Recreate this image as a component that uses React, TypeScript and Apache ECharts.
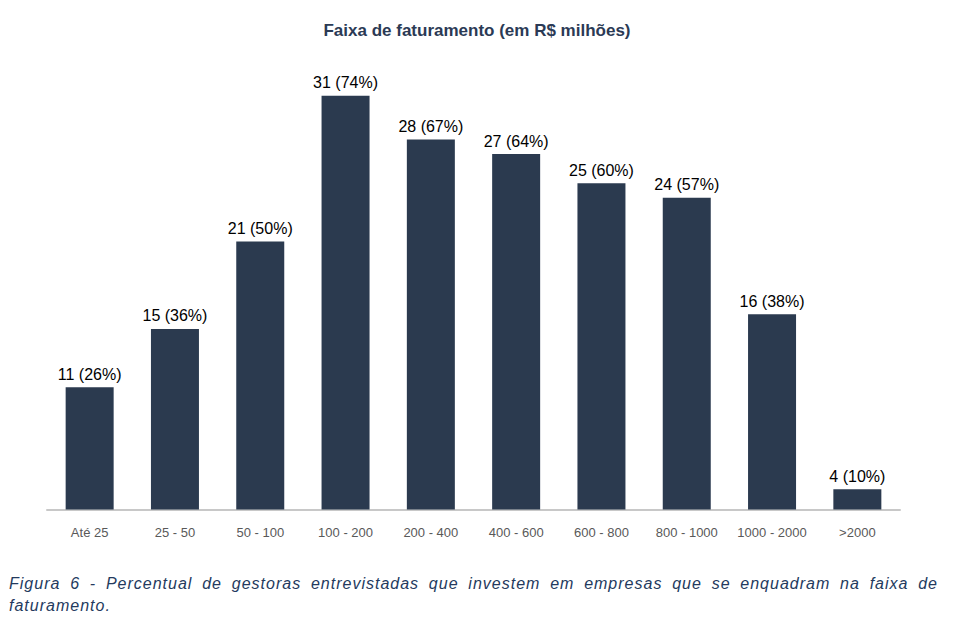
import React, { useEffect, useRef } from "react";
import * as echarts from "echarts";

// Revenue bands (R$ millions)
const categories = [
  "Até 25",
  "25 - 50",
  "50 - 100",
  "100 - 200",
  "200 - 400",
  "400 - 600",
  "600 - 800",
  "800 - 1000",
  "1000 - 2000",
  ">2000",
];
// Number of firms per band and the share it represents
const counts = [11, 15, 21, 31, 28, 27, 25, 24, 16, 4];
const percents = [26, 36, 50, 74, 67, 64, 60, 57, 38, 10];

const titleText = "Faixa de faturamento (em R$ milhões)";
const captionLine1 =
  "Figura 6 - Percentual de gestoras entrevistadas que investem em empresas que se enquadram na faixa de";
const captionLine2 = "faturamento.";

const BAR_COLOR = "#2B3A4F";
const NAVY = "#2B3A55";
const CAPTION_COLOR = "#243A5E";
const CAPTION_FONT_SIZE = 16;
const CAPTION_LETTER_SPACING = 1.0;
const CAPTION_FAMILY = "'Liberation Sans', Arial, sans-serif";

// Lay out a justified caption line word by word.
function justifiedWords(line: string, left: number, right: number, y: number) {
  const canvas = document.createElement("canvas");
  const ctx = canvas.getContext("2d")!;
  ctx.font = `italic ${CAPTION_FONT_SIZE}px ${CAPTION_FAMILY}`;
  const words = line.split(" ");
  const widths = words.map(
    (w) => ctx.measureText(w).width + CAPTION_LETTER_SPACING * w.length
  );
  const total = widths.reduce((a, b) => a + b, 0);
  const gap = words.length > 1 ? (right - left - total) / (words.length - 1) : 0;
  let x = left;
  return words.map((w, i) => {
    const el = {
      type: "text",
      x,
      y,
      style: {
        text: w,
        fill: CAPTION_COLOR,
        font: `italic ${CAPTION_FONT_SIZE}px ${CAPTION_FAMILY}`,
        textAlign: "left",
        textVerticalAlign: "middle",
      },
    };
    x += widths[i] + gap;
    return el;
  });
}

export default function App() {
  const ref = useRef<HTMLDivElement>(null);

  useEffect(() => {
    if (!ref.current) return;
    const chart = echarts.init(ref.current, undefined, { renderer: "svg" });

    const captionEls = [
      ...justifiedWords(captionLine1, 9, 938, 583.5),
      {
        type: "text",
        x: 9,
        y: 605,
        style: {
          text: captionLine2,
          fill: CAPTION_COLOR,
          font: `italic ${CAPTION_FONT_SIZE}px ${CAPTION_FAMILY}`,
          textAlign: "left",
          textVerticalAlign: "middle",
        },
      },
    ];

    chart.setOption({
      animation: false,
      backgroundColor: "#ffffff",
      grid: { left: 47, right: 55, top: 60, bottom: 118.5 },
      xAxis: {
        type: "category",
        data: categories,
        axisLine: { show: true, lineStyle: { color: "#C8C8C8", width: 2 } },
        axisTick: { show: false },
        axisLabel: {
          color: "#595959",
          fontSize: 13,
          fontFamily: "'Liberation Sans', Arial, sans-serif",
          margin: 16,
          interval: 0,
        },
      },
      yAxis: {
        type: "value",
        min: 2.61,
        max: 33.45,
        show: false,
        splitLine: { show: false },
      },
      series: [
        {
          type: "bar",
          data: counts,
          barWidth: 48,
          itemStyle: { color: BAR_COLOR },
          label: {
            show: true,
            position: "top",
            distance: 5,
            color: "#000000",
            fontSize: 16,
            fontFamily: "'Liberation Sans', Arial, sans-serif",
            formatter: (p: any) => `${counts[p.dataIndex]} (${percents[p.dataIndex]}%)`,
          },
        },
      ],
      graphic: [
        {
          type: "text",
          x: 477,
          y: 30,
          style: {
            text: titleText,
            fill: NAVY,
            font: "bold 17px 'Liberation Sans', Arial, sans-serif",
            textAlign: "center",
            textVerticalAlign: "middle",
          },
        },
        ...captionEls,
      ],
    });

    return () => chart.dispose();
  }, []);

  return (
    <>
      <style>{`text[style*="italic"] { letter-spacing: ${CAPTION_LETTER_SPACING}px; }`}</style>
      <div
        ref={ref}
        style={{ position: "fixed", left: 0, top: 0, width: 955, height: 628 }}
      />
    </>
  );
}
